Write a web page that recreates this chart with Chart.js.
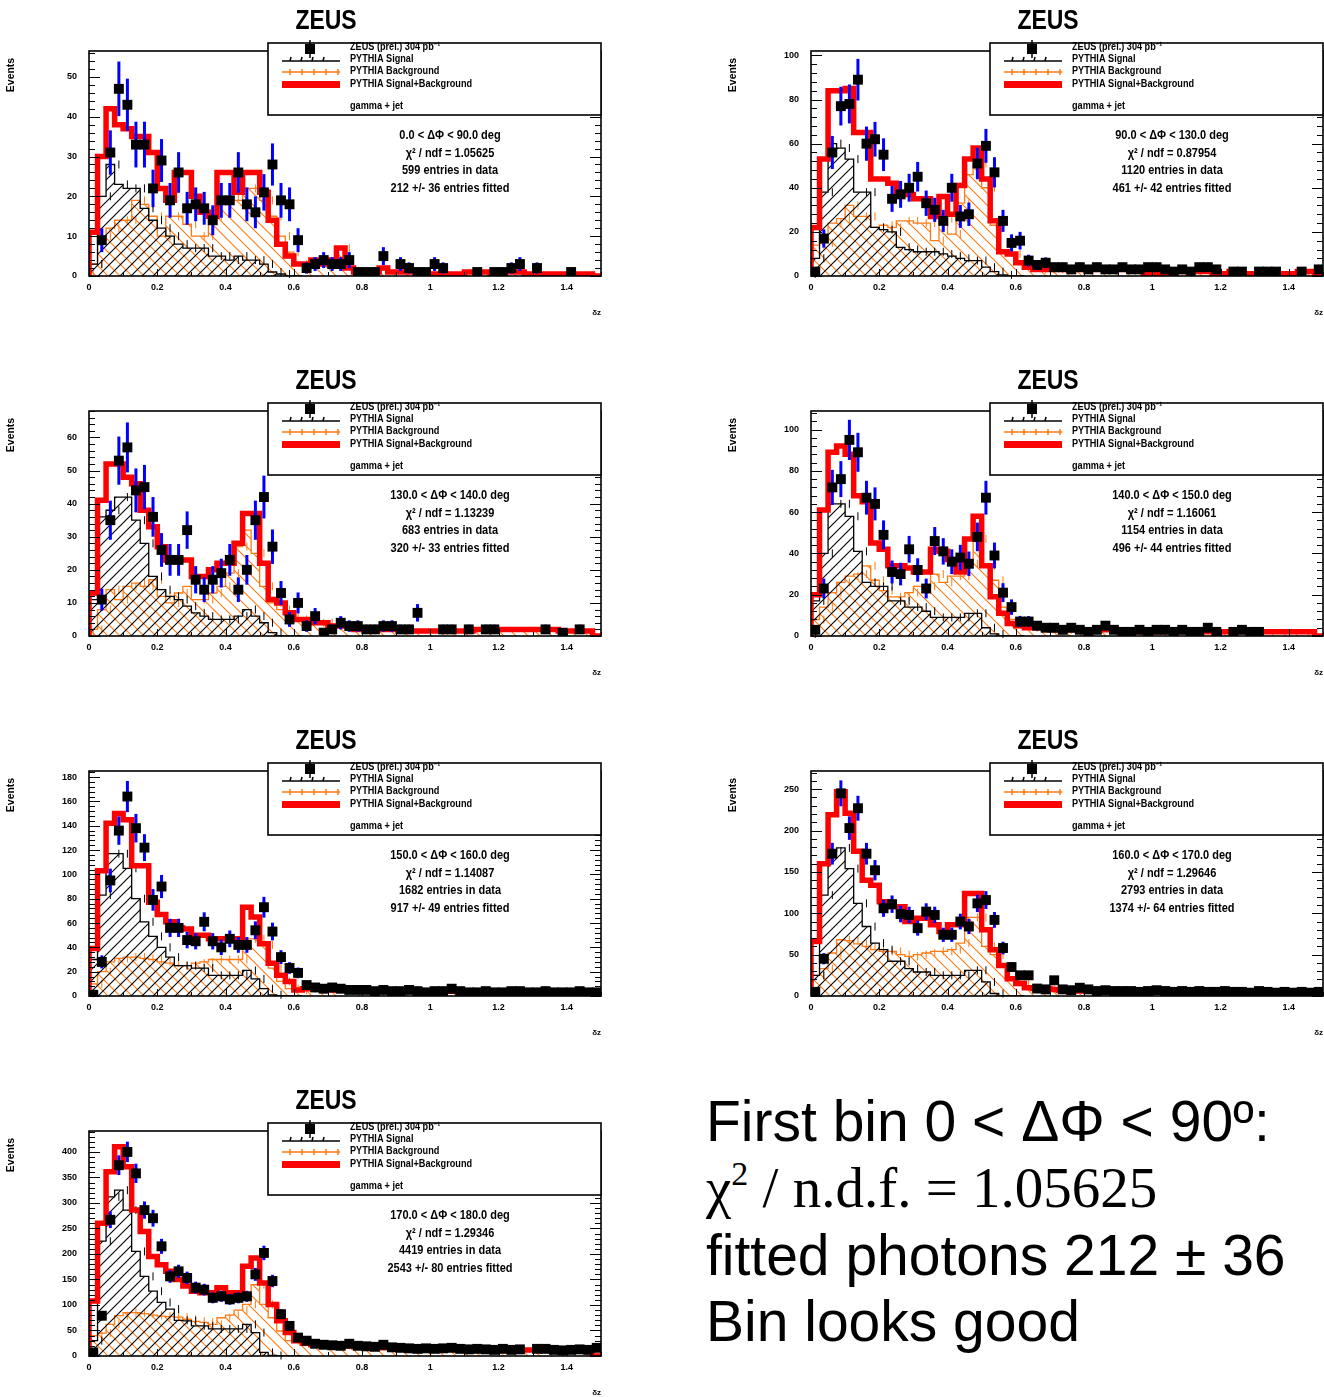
<!DOCTYPE html>
<html>
<head>
<meta charset="utf-8">
<script src="https://cdn.jsdelivr.net/npm/chart.js@4.4.1/dist/chart.umd.min.js"></script>
<style>
  html, body { margin: 0; padding: 0; background: #fff; }
  body { width: 1324px; height: 1397px; overflow: hidden; position: relative; }
  canvas.panel { position: absolute; }
  .zeus { position: absolute; width: 652px; text-align: center; font: bold 28px "Liberation Sans", sans-serif; line-height: 30px; color: #000; transform: scaleX(0.82); }
  .note { position: absolute; left: 706px; font-size: 57px; line-height: 66px; white-space: nowrap; color: #000; }
  .sans { font-family: "Liberation Sans", Arial, sans-serif; }
  .serif { font-family: "Liberation Serif", "Times New Roman", serif; }
</style>
</head>
<body>
<div class="note sans" style="top:1088px">First bin 0 &lt; ΔΦ &lt; 90º:</div>
<div class="note serif" style="top:1155px">χ<sup style="font-size:34px;vertical-align:22px;line-height:0">2</sup> / n.d.f. = 1.05625</div>
<div class="note sans" style="top:1222px">fitted photons 212 ± 36</div>
<div class="note sans" style="top:1288px">Bin looks good</div>
<script>
// binning of all histograms: 60 bins of 0.025 in dz
const binWidth = 0.025;
const xMax = 1.5;

const legendLabels = ['ZEUS (prel.) 304 pb⁻¹', 'PYTHIA Signal', 'PYTHIA Background', 'PYTHIA Signal+Background', 'gamma + jet'];

// ---- 0 < dPhi < 90
const p1Data = [null, 9, 31, 47, 43, 33, 33, 22, 29, 19, 26, 17, 18, 17, 14, 19, 19, 26, 18, 16, 21, 28, 19, 18, 9,
  2, 3, 4, 3, 3, 4, 1, 1, 1, 5, null, 3, 2, 1, 1, 3, 2, null, null, null, 1, null, 1, 1, 2, 3, null, 2, null, null, null, 1, null, null, null];
const p1Tail = [3, 3, 4, 3, 4, 7, 2, 1, 1, 1, 2, 1, 1, 1, 1, 0.5, 0.5, 0.5, 0.5, 0.5, 1, 1, 1, 0.5, 1, 1, 1, 0.5, 0.5, 0.5, 0.5, 0.5, 0.5, 0.5, 0.5];
const p1Total = [2, 11, 30, 42, 38, 37, 35, 35, 31, 22, 19, 26, 26, 20, 16, 15, 26, 26, 21, 26, 26, 21, 14, 8, 5, ...p1Tail];
const p1Signal = [0, 3, 20, 28, 23, 22, 22, 17, 14, 12, 10, 8, 7, 7, 7, 5, 5, 4, 5, 4, 4, 3, 1, 0.5, 0];
const p1Bkg = [1, 3, 10, 12, 14, 14, 19, 18, 15, 10, 15, 15, 13, 10, 10, 15, 18, 20, 19, 22, 22, 19, 15, 10, 6, ...p1Tail];
const p1Stats = ['0.0 < ΔΦ < 90.0 deg', 'χ² / ndf = 1.05625', '599 entries in data', '212 +/- 36 entries fitted'];

// ---- 90 < dPhi < 130
const p2Data = [2, 17, 56, 77, 78, 89, 60, 62, 55, 35, 37, 40, 45, 33, 30, 25, 40, 27, 28, 51, 59, 47, 25, 15, 16,
  7, 5, 6, 4, 4, 3, 4, 3, 4, 3, 3, 4, 3, 3, 4, 4, 3, 2, 3, 2, 4, 4, 3, null, 2, 2, null, 2, 2, 2, null, null, 2, null, 3];
const p2Tail = [6, 4, 3, 3, 3, 3, 3, 3, 3, 3, 3, 3, 3, 3, 3, 1, 1, 1, 2, 2, 2, 2, 2, 1, 1, 2, 1, 1, 1, 1, 1, 1, 1, 2, 2];
const p2Total = [3, 22, 53, 84, 84, 85, 65, 65, 44, 44, 42, 38, 37, 35, 35, 27, 36, 28, 41, 53, 58, 44, 25, 11, 10, ...p2Tail];
const p2Signal = [1, 8, 38, 60, 58, 53, 38, 38, 22, 21, 20, 13, 12, 11, 11, 11, 10, 9, 8, 7, 7, 4, 2, 0.5, 0];
const p2Bkg = [2, 14, 15, 24, 26, 32, 27, 27, 22, 23, 22, 25, 25, 24, 24, 16, 26, 19, 33, 46, 51, 40, 23, 10.5, 10, ...p2Tail];
const p2Stats = ['90.0 < ΔΦ < 130.0 deg', 'χ² / ndf = 0.87954', '1120 entries in data', '461 +/- 42 entries fitted'];

// ---- 130 < dPhi < 140
const p3Data = [null, 11, 35, 53, 57, 44, 45, 36, 26, 23, 23, 32, 17, 14, 17, 19, 23, 14, 20, 35, 42, 27, 13, 5, 10,
  3, 6, 1, 2, 4, 3, 3, 2, 2, 3, 3, 2, 2, 7, null, null, 2, 2, null, 2, null, 2, 2, null, null, null, null, null, 2, null, 1, null, 2, null, null];
const p3Tail = [5, 5, 4, 4, 3, 3, 3, 2, 2, 2, 2, 2, 2, 1.5, 1.5, 1.5, 1.5, 1.5, 1.5, 1.5, 1.5, 2, 2, 2, 2, 2, 2, 2, 2, 2, 2, 1.5, 1.5, 1.5, 1.5];
const p3Total = [3, 13, 41, 52, 52, 48, 46, 38, 33, 27, 23, 23, 23, 18, 18, 20, 22, 22, 28, 37, 37, 22, 11, 10, 7, ...p3Tail];
const p3Signal = [0, 11, 36, 38, 42, 42, 35, 28, 18, 14, 12, 11, 9, 7, 6, 5, 5, 5, 6, 8, 6, 4, 1, 0, 0];
const p3Bkg = [1, 2, 8, 14, 11, 15, 16, 15, 17, 12, 10, 13, 15, 11, 11, 13, 15, 19, 27, 32, 25, 15, 10, 8, 6, ...p3Tail];
const p3Stats = ['130.0 < ΔΦ < 140.0 deg', 'χ² / ndf = 1.13239', '683 entries in data', '320 +/- 33 entries fitted'];

// ---- 140 < dPhi < 150
const p4Data = [3, 23, 72, 76, 95, 89, 67, 64, 49, 31, 30, 42, 32, 23, 46, 41, 36, 38, 35, 48, 67, 39, 21, 14, 7,
  7, 5, 4, 4, 3, 4, 3, 2, 3, 5, 3, 2, 2, 3, 2, 3, 3, 2, 3, 2, 2, 4, 2, null, 2, 3, 2, 2, null, null, null, null, null, null, null];
const p4Tail = [5, 4, 4, 4, 3, 3, 3, 3, 3, 3, 3, 3, 3, 3, 2, 2, 2, 2, 2, 2, 2, 2, 2, 2, 2, 2, 2, 2, 2, 2, 2, 2, 2, 2, 2];
const p4Total = [8, 20, 61, 89, 92, 88, 68, 65, 45, 42, 34, 34, 33, 31, 31, 42, 41, 37, 31, 47, 58, 34, 19, 11, 6, ...p4Tail];
const p4Signal = [1, 17, 40, 64, 64, 58, 41, 26, 24, 24, 17, 17, 14, 14, 12, 9, 9, 9, 9, 11, 11, 4, 1, 0, 0];
const p4Bkg = [2, 8, 14, 21, 26, 29, 30, 34, 27, 22, 19, 19, 21, 24, 24, 30, 26, 29, 29, 35, 47, 34, 27, 14, 8, ...p4Tail];
const p4Stats = ['140.0 < ΔΦ < 150.0 deg', 'χ² / ndf = 1.16061', '1154 entries in data', '496 +/- 44 entries fitted'];

// ---- 150 < dPhi < 160
const p5Data = [1, 28, 95, 136, 164, 138, 122, 79, 90, 56, 56, 46, 45, 61, 45, 40, 47, 42, 42, 54, 73, 53, 32, 23, 19,
  9, 7, 6, 7, 6, 5, 5, 5, 4, 5, 4, 4, 5, 4, 3, 4, 4, 6, 4, 3, 3, 4, 3, 3, 4, 4, 3, 3, 4, 3, 3, 3, 4, 3, 3];
const p5Tail = [5, 6, 6, 6, 5, 5, 5, 5, 4, 4, 4, 4, 4, 4, 4, 4, 4, 4, 4, 4, 4, 4, 4, 4, 4, 4, 4, 4, 4, 4, 4, 4, 4, 4, 4];
const p5Total = [4, 39, 103, 142, 150, 145, 107, 107, 77, 67, 61, 56, 55, 50, 50, 47, 47, 47, 47, 73, 65, 43, 27, 17, 12, ...p5Tail];
const p5Signal = [0, 30, 83, 117, 117, 105, 80, 61, 49, 40, 32, 25, 25, 23, 23, 17, 17, 17, 17, 21, 14, 6, 1, 0, 0];
const p5Bkg = [2, 10, 20, 28, 31, 32, 32, 31, 30, 28, 27, 25, 25, 27, 28, 30, 30, 30, 30, 47, 47, 42, 23, 12, 6, ...p5Tail];
const p5Stats = ['150.0 < ΔΦ < 160.0 deg', 'χ² / ndf = 1.14087', '1682 entries in data', '917 +/- 49 entries fitted'];

// ---- 160 < dPhi < 170
const p6Data = [5, 45, 172, 245, 203, 227, 172, 152, 106, 111, 99, 98, 82, 102, 98, 74, 74, 90, 84, 112, 116, 92, 58, 35, 25,
  25, 9, 8, 19, 8, 7, 10, 8, 6, 7, 6, 6, 6, 5, 6, 7, 6, 5, 6, 5, 6, 5, 5, 6, 5, 5, 4, 6, 5, 4, 5, 4, 5, 4, 5];
const p6Tail = [15, 10, 9, 9, 8, 7, 7, 6, 6, 6, 6, 6, 6, 6, 6, 6, 5, 5, 5, 5, 5, 5, 5, 5, 5, 5, 5, 5, 5, 5, 5, 5, 5, 5, 5];
const p6Total = [12, 66, 160, 219, 247, 221, 175, 140, 134, 114, 108, 108, 90, 94, 94, 86, 78, 86, 86, 124, 124, 80, 56, 37, 21, ...p6Tail];
const p6Signal = [0, 25, 122, 175, 179, 154, 112, 84, 64, 56, 42, 42, 33, 29, 29, 25, 25, 25, 25, 31, 31, 17, 3, 0, 0];
const p6Bkg = [5, 25, 33, 52, 68, 67, 63, 60, 56, 54, 54, 50, 48, 50, 52, 54, 54, 56, 64, 95, 95, 60, 50, 36, 20, ...p6Tail];
const p6Stats = ['160.0 < ΔΦ < 170.0 deg', 'χ² / ndf = 1.29646', '2793 entries in data', '1374 +/- 64 entries fitted'];

// ---- 170 < dPhi < 180
const p7Data = [7, 79, 267, 374, 400, 358, 286, 270, 215, 156, 166, 153, 134, 130, 114, 117, 111, 114, 117, 160, 202, 147, 82, 59, 36,
  30, 24, 22, 21, 20, 24, 20, 19, 18, 22, 17, 16, 15, 14, 15, 14, 15, 16, 14, 13, 14, 13, 12, 14, 12, 13, null, 14, 14, 12, 11, 12, 13, 12, 16];
const p7Tail = [30, 25, 22, 22, 21, 21, 20, 18, 18, 17, 16, 16, 15, 15, 15, 14, 14, 14, 14, 14, 13, 13, 13, 13, 13, 12, 12, 12, 12, 12, 12, 12, 12, 12, 12];
const p7Total = [10, 108, 260, 361, 410, 371, 286, 244, 195, 179, 166, 150, 137, 127, 124, 124, 134, 124, 124, 176, 192, 143, 101, 69, 46, ...p7Tail];
const p7Signal = [0, 30, 225, 312, 325, 286, 205, 156, 127, 105, 92, 70, 69, 59, 59, 53, 53, 53, 53, 62, 46, 7, 1, 0, 0];
const p7Bkg = [8, 40, 45, 62, 79, 85, 85, 83, 80, 78, 77, 76, 72, 68, 66, 62, 75, 80, 90, 101, 140, 101, 75, 49, 30, ...p7Tail];
const p7Stats = ['170.0 < ΔΦ < 180.0 deg', 'χ² / ndf = 1.29346', '4419 entries in data', '2543 +/- 80 entries fitted'];

const panels = [
  { left: 0,   top: 0,    yMax: 56.5, yStep: 10, data: p1Data, total: p1Total, signal: p1Signal, bkg: p1Bkg, stats: p1Stats },
  { left: 722, top: 0,    yMax: 102,  yStep: 20, data: p2Data, total: p2Total, signal: p2Signal, bkg: p2Bkg, stats: p2Stats },
  { left: 0,   top: 360,  yMax: 68,   yStep: 10, data: p3Data, total: p3Total, signal: p3Signal, bkg: p3Bkg, stats: p3Stats },
  { left: 722, top: 360,  yMax: 109,  yStep: 20, data: p4Data, total: p4Total, signal: p4Signal, bkg: p4Bkg, stats: p4Stats },
  { left: 0,   top: 720,  yMax: 185,  yStep: 20, data: p5Data, total: p5Total, signal: p5Signal, bkg: p5Bkg, stats: p5Stats },
  { left: 722, top: 720,  yMax: 272,  yStep: 50, data: p6Data, total: p6Total, signal: p6Signal, bkg: p6Bkg, stats: p6Stats },
  { left: 0,   top: 1080, yMax: 441,  yStep: 50, data: p7Data, total: p7Total, signal: p7Signal, bkg: p7Bkg, stats: p7Stats }
];

const SANS = '"Liberation Sans", Arial, sans-serif';
const ORANGE = '#ff7a12';

// hatch pattern for the filled MC histograms
function hatch(color, rising, size) {
  const c = document.createElement('canvas');
  c.width = size; c.height = size;
  const g = c.getContext('2d');
  g.strokeStyle = color;
  g.lineWidth = 1.1;
  g.beginPath();
  if (rising) {
    g.moveTo(-1, size + 1); g.lineTo(size + 1, -1);
    g.moveTo(-1, 1); g.lineTo(1, -1);
    g.moveTo(size - 1, size + 1); g.lineTo(size + 1, size - 1);
  } else {
    g.moveTo(-1, -1); g.lineTo(size + 1, size + 1);
    g.moveTo(size - 1, -1); g.lineTo(size + 1, 1);
    g.moveTo(-1, size - 1); g.lineTo(1, size + 1);
  }
  g.stroke();
  return g.createPattern(c, 'repeat');
}

// histogram outline: left bin edges, closed down to zero at both ends
function stepPoints(vals) {
  const pts = [{ x: 0, y: 0 }];
  vals.forEach((v, k) => pts.push({ x: k * binWidth, y: v }));
  pts.push({ x: vals.length * binWidth, y: 0 });
  return pts;
}
function centerPoints(vals) {
  return vals.map((v, k) => ({ x: (k + 0.5) * binWidth, y: v }));
}

// narrow bold text, like the ROOT labels
function narrowText(ctx, text, x, y, size, align, sx) {
  ctx.save();
  ctx.font = 'bold ' + size + 'px ' + SANS;
  ctx.textBaseline = 'middle';
  ctx.textAlign = align;
  ctx.translate(x, y);
  ctx.scale(sx, 1);
  ctx.fillText(text, 0, 0);
  ctx.restore();
}

// error bars for data (blue, poisson) and small ticks on the MC histograms
const errorBars = {
  id: 'errorBars',
  beforeDatasetDraw(chart, args) {
    if (args.index !== 0) return;
    const { ctx, scales: { x, y } } = chart;
    const ds = chart.data.datasets[0].data;
    ctx.save();
    ds.forEach(p => {
      if (p.y === null) return;
      const px = x.getPixelForValue(p.x);
      const err = Math.sqrt(p.y);
      ctx.strokeStyle = '#0000ff';
      ctx.lineWidth = 3;
      ctx.beginPath();
      ctx.moveTo(px, y.getPixelForValue(p.y - err));
      ctx.lineTo(px, y.getPixelForValue(p.y + err));
      ctx.stroke();
      ctx.strokeStyle = '#000';
      ctx.lineWidth = 2.5;
      ctx.beginPath();
      ctx.moveTo(x.getPixelForValue(p.x - binWidth / 2), y.getPixelForValue(p.y));
      ctx.lineTo(x.getPixelForValue(p.x + binWidth / 2), y.getPixelForValue(p.y));
      ctx.stroke();
    });
    ctx.restore();
  },
  afterDatasetDraw(chart, args) {
    if (args.index !== 2 && args.index !== 3) return;
    const { ctx, scales: { x, y } } = chart;
    const p = chart.canvas.$panel;
    const vals = args.index === 2 ? p.signal : p.bkg;
    ctx.save();
    ctx.strokeStyle = args.index === 2 ? '#000' : ORANGE;
    ctx.lineWidth = 1;
    vals.forEach((v, k) => {
      if (v <= 0 || k > 30) return;
      const px = x.getPixelForValue((k + 0.5) * binWidth);
      const py = y.getPixelForValue(v);
      ctx.beginPath();
      ctx.moveTo(px, py - 4);
      ctx.lineTo(px, py + 4);
      ctx.stroke();
    });
    ctx.restore();
  }
};

function seg(ctx, x1, y1, x2, y2) {
  ctx.beginPath(); ctx.moveTo(x1, y1); ctx.lineTo(x2, y2); ctx.stroke();
}

// ROOT-like frame, inward ticks, legend box and fit statistics
const rootDecor = {
  id: 'rootDecor',
  afterDraw(chart) {
    const { ctx, chartArea: a, scales: { x, y } } = chart;
    const p = chart.canvas.$panel;
    ctx.save();
    ctx.strokeStyle = '#000';
    ctx.lineWidth = 1;
    const minor = p.yStep / 5;
    for (let i = 0; i * minor <= p.yMax; i++) {
      const py = Math.round(y.getPixelForValue(i * minor)) + 0.5;
      const len = i % 5 === 0 ? 11 : 6;
      seg(ctx, a.left, py, a.left + len, py);
      seg(ctx, a.right, py, a.right - len, py);
    }
    for (let i = 0; i * 0.1 <= xMax + 1e-9; i++) {
      const px = Math.round(x.getPixelForValue(i * 0.1)) + 0.5;
      const len = i % 2 === 0 ? 7 : 4;
      seg(ctx, px, a.bottom, px, a.bottom - len);
    }
    ctx.lineWidth = 1.6;
    ctx.strokeRect(a.left, a.top, a.right - a.left, a.bottom - a.top);

    // y axis title, at the top of the axis as ROOT puts it
    ctx.save();
    ctx.translate(11, 75);
    ctx.rotate(-Math.PI / 2);
    narrowText(ctx, 'Events', 0, 0, 11, 'center', 0.95);
    ctx.restore();

    // legend
    const bx = 268, by = 43, bw = a.right - 268, bh = 72;
    ctx.fillStyle = '#fff';
    ctx.fillRect(bx, by, bw, bh);
    ctx.lineWidth = 1.6;
    ctx.strokeRect(bx, by, bw, bh);
    ctx.fillStyle = '#000';
    ctx.fillRect(305, 44, 10, 10);
    ctx.lineWidth = 1.5;
    seg(ctx, 310, 40, 310, 58);
    seg(ctx, 282, 61, 340, 61);
    [290, 301, 312, 323].forEach(tx => seg(ctx, tx, 61, tx + 1, 57));
    ctx.strokeStyle = ORANGE;
    seg(ctx, 282, 72, 340, 72);
    [290, 302, 314, 326, 338].forEach(tx => seg(ctx, tx, 69, tx, 75));
    ctx.fillStyle = '#ff0000';
    ctx.fillRect(282, 81, 58, 7);
    ctx.fillStyle = '#000';
    [47, 59, 71, 84, 106].forEach((ty, i) => narrowText(ctx, legendLabels[i], 350, ty, 10.5, 'left', 0.87));

    // statistics
    [136, 154, 171, 189].forEach((ty, i) => narrowText(ctx, p.stats[i], 450, ty, 12.5, 'center', 0.88));
    ctx.restore();
  }
};

const blackHatch = hatch('#000', true, 11);
const orangeHatch = hatch(ORANGE, false, 12);

panels.forEach(p => {
  const cv = document.createElement('canvas');
  cv.className = 'panel';
  cv.width = 652; cv.height = 330;
  cv.style.left = p.left + 'px';
  cv.style.top = p.top + 'px';
  cv.$panel = p;
  document.body.appendChild(cv);

  const title = document.createElement('div');
  title.className = 'zeus';
  title.textContent = 'ZEUS';
  title.style.left = p.left + 'px';
  title.style.top = (p.top + 5) + 'px';
  document.body.appendChild(title);

  new Chart(cv.getContext('2d'), {
    type: 'line',
    data: {
      datasets: [
        { label: 'data', data: centerPoints(p.data), showLine: false, pointStyle: 'rect', pointRadius: 7,
          pointBackgroundColor: '#000', pointBorderColor: '#000', pointBorderWidth: 0, order: 0 },
        { label: 'total', data: stepPoints(p.total), stepped: 'after', borderColor: '#ff0000', borderWidth: 5.5,
          pointRadius: 0, fill: false, order: 1 },
        { label: 'signal', data: stepPoints(p.signal), stepped: 'after', borderColor: '#000', borderWidth: 1.3,
          pointRadius: 0, fill: 'origin', backgroundColor: blackHatch, order: 2 },
        { label: 'bkg', data: stepPoints(p.bkg), stepped: 'after', borderColor: ORANGE, borderWidth: 1.3,
          pointRadius: 0, fill: 'origin', backgroundColor: orangeHatch, order: 3 }
      ]
    },
    options: {
      responsive: false,
      animation: false,
      devicePixelRatio: 1,
      layout: { padding: { top: 51, right: 51, left: 0, bottom: 0 } },
      plugins: { legend: { display: false }, tooltip: { enabled: false }, title: { display: false } },
      scales: {
        x: {
          type: 'linear', min: 0, max: xMax,
          grid: { display: false, drawTicks: false }, border: { display: false },
          ticks: { stepSize: 0.2, includeBounds: false, padding: 6, color: '#000', maxRotation: 0,
            font: { family: SANS, size: 9, weight: 'bold' },
            callback: v => String(Math.round(v * 10) / 10) },
          title: { display: true, text: 'δz', align: 'end', color: '#000', padding: { top: 0, bottom: 12 },
            font: { family: SANS, size: 8, weight: 'bold' } },
          afterFit: s => { s.height = 54; }
        },
        y: {
          min: 0, max: p.yMax,
          grid: { display: false, drawTicks: false }, border: { display: false },
          ticks: { stepSize: p.yStep, includeBounds: false, padding: 12, color: '#000',
            font: { family: SANS, size: 9, weight: 'bold' } },
          title: { display: false },
          afterFit: s => { s.width = 89; }
        }
      }
    },
    plugins: [errorBars, rootDecor]
  });
});
</script>
</body>
</html>
